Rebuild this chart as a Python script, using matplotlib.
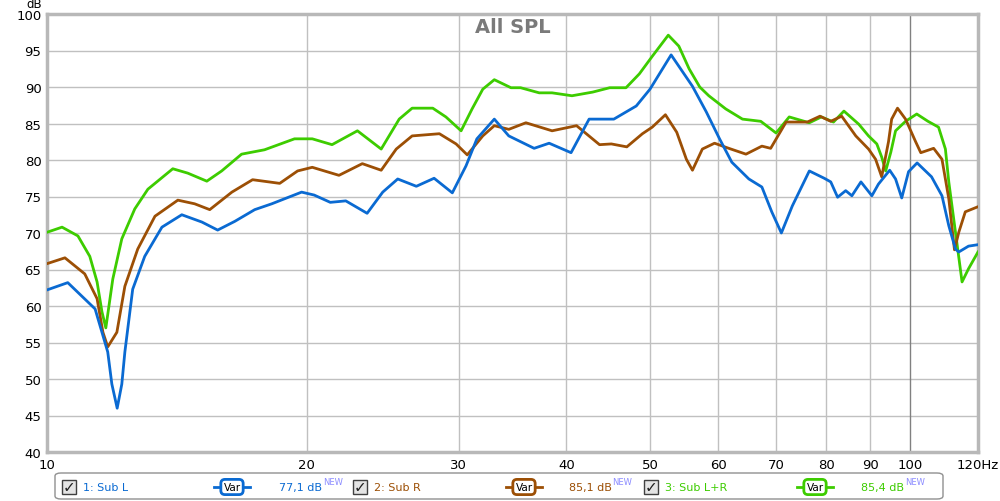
# all_spl.py
# REW style "All SPL" overlay of the two subs and their sum
import matplotlib
matplotlib.use("Agg")
import matplotlib.pyplot as plt
from matplotlib.patches import FancyBboxPatch, Rectangle
from matplotlib.lines import Line2D
from matplotlib.text import Annotation

blue_f = [10, 10.57, 11.37, 11.76, 11.89, 12.06, 12.21, 12.31, 12.57, 12.98,
          13.59, 14.33, 15.12, 15.77, 16.51, 17.41, 18.22, 19.73, 20.4, 21.3,
          22.2, 23.5, 24.5, 25.5, 26.8, 28.1, 29.5, 30.6, 31.5, 33.0,
          34.3, 36.7, 38.2, 40.5, 42.5, 45.4, 48.2, 50, 52.9, 56.0,
          58.1, 60.2, 62.2, 65.1, 67.4, 69.2, 71.0, 73.1, 76.5, 79.6,
          81.0, 82.5, 84.3, 85.7, 87.8, 90.4, 92.0, 94.8, 96.3, 97.9,
          99.7, 102, 106, 109, 111, 113, 114, 117, 120]
blue_db = [62.2, 63.2, 59.6, 53.7, 49.3, 46.0, 49.3, 53.7, 62.3, 66.8,
           70.8, 72.5, 71.5, 70.4, 71.6, 73.2, 74.0, 75.6, 75.2, 74.2,
           74.4, 72.7, 75.6, 77.4, 76.4, 77.5, 75.5, 79.2, 82.9, 85.6,
           83.3, 81.6, 82.3, 81.0, 85.6, 85.6, 87.4, 89.7, 94.4, 90.1,
           86.6, 82.9, 79.7, 77.4, 76.3, 72.9, 70.0, 73.7, 78.5, 77.5,
           77.0, 74.9, 75.8, 75.1, 77.0, 75.1, 76.7, 78.6, 77.4, 74.8,
           78.4, 79.6, 77.7, 75.1, 71.0, 67.8, 67.4, 68.2, 68.4]

brown_f = [10, 10.49, 11.06, 11.43, 11.61, 11.76, 12.05, 12.31, 12.74, 13.34,
           14.18, 14.83, 15.44, 16.38, 17.31, 18.61, 19.52, 20.3, 21.8, 23.2,
           24.4, 25.4, 26.5, 28.5, 29.8, 30.7, 32.0, 33.0, 34.3, 35.9,
           38.5, 41.1, 43.7, 45.1, 47.0, 49.0, 50.3, 52.1, 53.7, 55.1,
           56.0, 57.5, 59.4, 61.7, 64.6, 67.4, 69.0, 71.9, 76.1, 78.7,
           81.0, 83.4, 86.6, 89.6, 91.3, 92.8, 94.5, 95.3, 96.8, 98.9,
           101.6, 103, 106.6, 109, 111, 112.7, 114, 116, 120]
brown_db = [65.8, 66.6, 64.4, 61.0, 56.4, 54.4, 56.4, 62.7, 67.8, 72.3,
            74.5, 74.0, 73.2, 75.6, 77.3, 76.8, 78.5, 79.0, 77.9, 79.5,
            78.6, 81.5, 83.3, 83.6, 82.2, 80.7, 83.3, 84.7, 84.2, 85.1,
            84.0, 84.7, 82.1, 82.2, 81.8, 83.6, 84.5, 86.2, 83.8, 80.1,
            78.6, 81.5, 82.3, 81.6, 80.8, 81.9, 81.6, 85.2, 85.2, 86.0,
            85.3, 86.0, 83.3, 81.5, 80.1, 77.7, 82.5, 85.6, 87.1, 85.6,
            82.5, 81.0, 81.6, 80.1, 74.7, 67.7, 70.1, 72.9, 73.6]

green_f = [10, 10.41, 10.86, 11.21, 11.43, 11.58, 11.70, 11.92, 12.21, 12.64,
           13.09, 13.99, 14.56, 15.32, 15.94, 16.81, 17.87, 19.36, 20.3, 21.4,
           22.9, 24.4, 25.6, 26.5, 28.0, 29.0, 30.2, 31.1, 32.0, 33.0,
           34.5, 35.4, 37.2, 38.5, 40.6, 42.9, 44.9, 46.9, 48.6, 50.3,
           52.5, 54.0, 55.5, 57.1, 58.5, 61.2, 64.0, 67.2, 70.0, 72.5,
           76.5, 79.0, 81.6, 83.9, 87.3, 89.6, 91.6, 92.8, 93.8, 95.1,
           96.3, 98.9, 101.9, 105, 108, 110, 111, 113, 115, 117, 120]
green_db = [70.1, 70.8, 69.6, 66.8, 63.3, 59.2, 57.0, 63.7, 69.2, 73.3,
            76.0, 78.8, 78.2, 77.1, 78.5, 80.8, 81.4, 82.9, 82.9, 82.1,
            84.0, 81.5, 85.6, 87.1, 87.1, 85.9, 84.0, 87.0, 89.7, 91.0,
            89.9, 89.9, 89.2, 89.2, 88.8, 89.3, 89.9, 89.9, 91.8, 94.2,
            97.1, 95.6, 92.5, 90.0, 88.8, 87.0, 85.6, 85.3, 83.7, 85.9,
            85.1, 85.9, 85.2, 86.7, 84.9, 83.3, 82.2, 80.4, 78.5, 81.1,
            84.0, 85.3, 86.3, 85.3, 84.5, 81.5, 77.0, 70.1, 63.3, 65.1, 67.4]

names = ["1: Sub L", "2: Sub R", "3: Sub L+R"]
levels = ["77,1 dB", "85,1 dB", "85,4 dB"]
colors = ["#0a6ad2", "#9c4f05", "#3dcc00"]

x_ticks = [10, 20, 30, 40, 50, 60, 70, 80, 90, 100, 120]
x_labels = ["10", "20", "30", "40", "50", "60", "70", "80", "90", "100", "120Hz"]
y_ticks = list(range(40, 101, 5))

W, H = 1000, 502
fig = plt.figure(figsize=(10, 5.02), dpi=100)
ax = fig.add_axes([47 / W, 1 - 453 / H, (978 - 47) / W, (453 - 15) / H])

ax.plot(blue_f, blue_db, color=colors[0], lw=2, zorder=5)
ax.plot(brown_f, brown_db, color=colors[1], lw=2, zorder=4)
ax.plot(green_f, green_db, color=colors[2], lw=2, zorder=3)

ax.set_xscale("log")
ax.set_xlim(10, 120)
ax.set_ylim(40, 100)
ax.set_xticks(x_ticks)
ax.set_xticklabels(x_labels)
ax.minorticks_off()
ax.set_yticks(y_ticks)
ax.tick_params(length=0, labelsize=9.5, pad=4)

for y in y_ticks:
    ax.axhline(y, color="#c0c0c0", lw=1, zorder=1)
for x in x_ticks[:-1]:
    ax.axvline(x, color="#808080" if x == 100 else "#c0c0c0", lw=1, zorder=1)

for s in ax.spines.values():
    s.set_color("#b8b8b8")
    s.set_linewidth(2.5)

ax.text(0.5, 0.993, "All SPL", transform=ax.transAxes, ha="center", va="top",
        fontsize=14, fontweight="bold", color="#7a7a7a")
fig.text(34 / W, 1 - 5 / H, "dB", ha="center", va="center", fontsize=8.5)

# legend strip along the bottom
fig.patches.append(FancyBboxPatch((55 / W, 1 - 500 / H), (943 - 55) / W, 26 / H,
                                  boxstyle="round,pad=0,rounding_size=0.006",
                                  transform=fig.transFigure, fc="white",
                                  ec="#909090", lw=1))
ly = 1 - 488 / H
check_x = [69, 360, 651]
var_x = [232, 524, 815]
lvl_x = [279, 569, 861]
for i in range(3):
    cx = check_x[i]
    fig.patches.append(Rectangle(((cx - 7) / W, ly - 7 / H), 14 / W, 14 / H,
                                 transform=fig.transFigure, fc="#e4e4e4",
                                 ec="#404040", lw=1))
    fig.text(cx / W, ly, "✓", ha="center", va="center", fontsize=11,
             fontweight="bold", color="#202020")
    fig.text((cx + 14) / W, ly, names[i], ha="left", va="center",
             fontsize=8, color=colors[i])
    vx = var_x[i]
    fig.lines.append(Line2D([(vx - 18) / W, (vx + 18) / W], [ly, ly],
                            transform=fig.transFigure, color=colors[i], lw=2))
    fig.text(vx / W, ly, "Var", ha="center", va="center", fontsize=7.5,
             bbox=dict(boxstyle="round,pad=0.25,rounding_size=0.4", fc="white",
                       ec=colors[i], lw=2))
    t = fig.text(lvl_x[i] / W, ly, levels[i], ha="left", va="center",
                 fontsize=8, color=colors[i])
    fig.add_artist(Annotation("NEW", xy=(1, 1), xycoords=t,
                              xytext=(0.5, 0), textcoords="offset points",
                              ha="left", va="center", fontsize=6, color="#8c8cff"))

fig.savefig("out.png", dpi=100)
